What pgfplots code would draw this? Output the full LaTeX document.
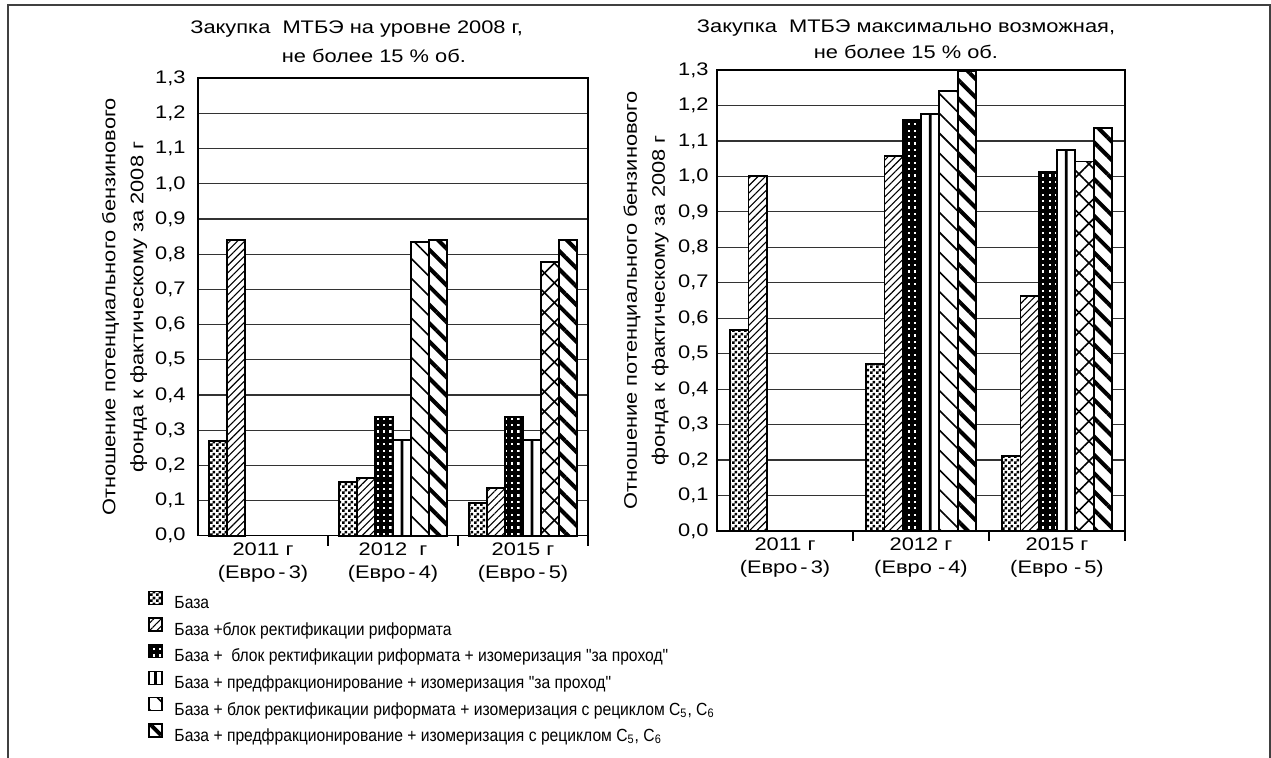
\documentclass[border=0pt]{standalone}
\usepackage{fontspec}
\setmainfont{Liberation Sans}
\newfontfamily\chartfont{Liberation Sans}[FakeStretch=1.2]
\newfontfamily\legfont{Liberation Sans}[FakeStretch=0.89]
\usepackage{pgfplots}
\pgfplotsset{compat=1.18}
\usetikzlibrary{patterns,patterns.meta}

\pgfdeclarepatternformonly{finechecker}{\pgfpointorigin}{\pgfpoint{3bp}{3bp}}{\pgfpoint{3bp}{3bp}}{%
  \pgfpathrectangle{\pgfpointorigin}{\pgfpoint{1.5bp}{1.5bp}}%
  \pgfpathrectangle{\pgfpoint{1.5bp}{1.5bp}}{\pgfpoint{1.5bp}{1.5bp}}%
  \pgfusepath{fill}}
\pgfdeclarepatternformonly{wdots}{\pgfpoint{-0.6bp}{-0.6bp}}{\pgfpoint{0.6bp}{0.6bp}}{\pgfpoint{3.2bp}{3.2bp}}{%
  \pgfpathrectangle{\pgfpoint{-0.55bp}{-0.55bp}}{\pgfpoint{1.1bp}{1.1bp}}\pgfusepath{fill}}

\newcommand{\fs}{\chartfont\fontsize{9.1bp}{11bp}\selectfont}
\newcommand{\lfs}{\legfont\fontsize{8.8bp}{10bp}\selectfont}

\pgfplotsset{
  sA/.style={fill=white, postaction={pattern=finechecker, pattern color=black}},
  sB/.style={fill=white, postaction={pattern={Lines[angle=45,distance=2.6bp,line width=0.55bp]}, pattern color=black}},
  sC/.style={fill=black, postaction={pattern=wdots, pattern color=white}},
  sD/.style={fill=white},
  sE/.style={fill=white, postaction={pattern={Lines[angle=-45,distance=7bp,line width=0.8bp]}, pattern color=black}},
  sEx/.style={fill=none, pattern={Lines[angle=45,distance=7bp,line width=0.8bp]}, pattern color=black},
  sF/.style={fill=white, postaction={pattern={Lines[angle=-45,distance=6.5bp,line width=2bp]}, pattern color=black}},
  mybase/.style={
    scale only axis, anchor=south west,
    ybar, bar width=9bp, clip=false,
    ymin=0, ymax=1.3, xmin=-0.5, xmax=2.5,
    ytick={0,0.1,0.2,0.3,0.4,0.5,0.6,0.7,0.8,0.9,1.0,1.1,1.2,1.3},
    yticklabel style={/pgf/number format/fixed, /pgf/number format/fixed zerofill, /pgf/number format/precision=1, /pgf/number format/use comma, /pgf/number format/assume math mode=true},
    ticklabel style={font=\fs},
    ymajorgrids, major grid style={black!80, line width=0.6bp},
    axis line style={line width=0.8bp, black},
    xtick={0,1,2},
    xticklabel style={align=center, font=\chartfont\fontsize{9.1bp}{11.5bp}\selectfont},
    minor xtick={0.5,1.5,2.5},
    major tick length=0pt, minor tick length=5bp,
    tick align=outside, xtick pos=bottom, ytick pos=left,
    minor tick style={line width=0.8bp, black},
    every axis plot/.append style={draw=black, line width=0.9bp},
    ylabel={Отношение потенциального бензинового\\фонда к фактическому за 2008 г},
    ylabel style={align=center, font=\chartfont\fontsize{9.1bp}{14bp}\selectfont, anchor=center},
    legend image code/.code={\draw[#1, draw=black, line width=0.7bp] (0bp,0bp) rectangle (6.5bp,6.5bp);},
  }
}

\begin{document}
\begin{tikzpicture}
\useasboundingbox (0,0) rectangle (635.5bp,379bp);
\draw[line width=1bp, black!75] (4bp,0) -- (4bp,376.5bp) -- (635bp,376.5bp) -- (635bp,0);

% ---------------- left chart ----------------
\begin{axis}[mybase,
  at={(99bp,111.15bp)}, width=195bp, height=228.7bp,
  xticklabels={{2011 г\\(Евро\,-\,3)},{2012\ \ г\\(Евро\,-\,4)},{2015 г\\(Евро\,-\,5)}},
  yticklabel style={xshift=-2.7bp},
  ylabel style={at={(axis description cs:-0.188,0.5)}},
  legend cell align=left,
  legend style={at={(axis description cs:-0.128,-0.1195)}, anchor=north west,
    draw=none, fill=none, inner sep=0pt, font=\lfs, row sep=0.8bp, column sep=5.8bp,
    nodes={inner xsep=0bp, inner ysep=1.5bp, text height=6.3bp, text depth=1.8bp}},
]
\addplot[sA, bar shift=-22.5bp] coordinates {(0,0.27) (1,0.153) (2,0.092)};
\addlegendentry{База}
\addplot[sB, bar shift=-13.5bp] coordinates {(0,0.84) (1,0.163) (2,0.136)};
\addlegendentry{База +блок ректификации риформата}
\addplot[sC, bar shift=-4.5bp] coordinates {(1,0.338) (2,0.338)};
\addlegendentry{База +\ \ блок ректификации риформата + изомеризация "за проход"}
\addplot[sD, bar shift=4.5bp,
  legend image code/.code={\draw[fill=white,draw=black,line width=0.7bp] (0bp,0bp) rectangle (6.5bp,6.5bp);
    \draw[line width=1.3bp] (3.25bp,0bp) -- (3.25bp,6.5bp);}] coordinates {(1,0.272) (2,0.272)};
\addlegendentry{База + предфракционирование + изомеризация "за проход"}
\addplot[forget plot, fill=black, draw=none, bar width=1.4bp, bar shift=4.5bp] coordinates {(1,0.272) (2,0.272)};
\addplot[sE, bar shift=13.5bp] coordinates {(1,0.835) (2,0.778)};
\addlegendentry{База + блок ректификации риформата + изомеризация с рециклом C\textsubscript{5}, C\textsubscript{6}}
\addplot[forget plot, sEx, bar shift=13.5bp] coordinates {(2,0.778)};
\addplot[sF, bar shift=22.5bp] coordinates {(1,0.84) (2,0.84)};
\addlegendentry{База + предфракционирование + изомеризация с рециклом C\textsubscript{5}, C\textsubscript{6}}
\node[anchor=base, font=\fs] at (axis description cs:0.4069,1.099) {Закупка\ \ МТБЭ на уровне 2008 г,};
\node[anchor=base, font=\fs] at (axis description cs:0.4508,1.0356) {не более 15 \% об.};
\end{axis}

% ---------------- right chart ----------------
\begin{axis}[mybase,
  at={(358.5bp,113.5bp)}, width=204bp, height=230.5bp, bar width=9.15bp,
  xticklabels={{2011 г\\(Евро\,-\,3)},{2012 г\\(Евро\ -\,4)},{2015 г\\(Евро\ -\,5)}},
  yticklabel style={xshift=-0.7bp},
  ylabel style={at={(axis description cs:-0.174,0.5)}},
]
\addplot[sA, bar shift=-22.875bp] coordinates {(0,0.567) (1,0.470) (2,0.211)};
\addplot[sB, bar shift=-13.725bp] coordinates {(0,1.001) (1,1.057) (2,0.663)};
\addplot[sC, bar shift=-4.575bp] coordinates {(1,1.159) (2,1.013)};
\addplot[sD, bar shift=4.575bp] coordinates {(1,1.176) (2,1.075)};
\addplot[forget plot, fill=black, draw=none, bar width=1.4bp, bar shift=4.575bp] coordinates {(1,1.176) (2,1.075)};
\addplot[sE, bar shift=13.725bp] coordinates {(1,1.241) (2,1.042)};
\addplot[forget plot, sEx, bar shift=13.725bp] coordinates {(2,1.042)};
\addplot[sF, bar shift=22.875bp] coordinates {(1,1.298) (2,1.136)};
\node[anchor=base, font=\fs] at (axis description cs:0.4632,1.0824) {Закупка\ \ МТБЭ максимально возможная,};
\node[anchor=base, font=\fs] at (axis description cs:0.4632,1.026) {не более 15 \% об.};
\end{axis}
\end{tikzpicture}
\end{document}
